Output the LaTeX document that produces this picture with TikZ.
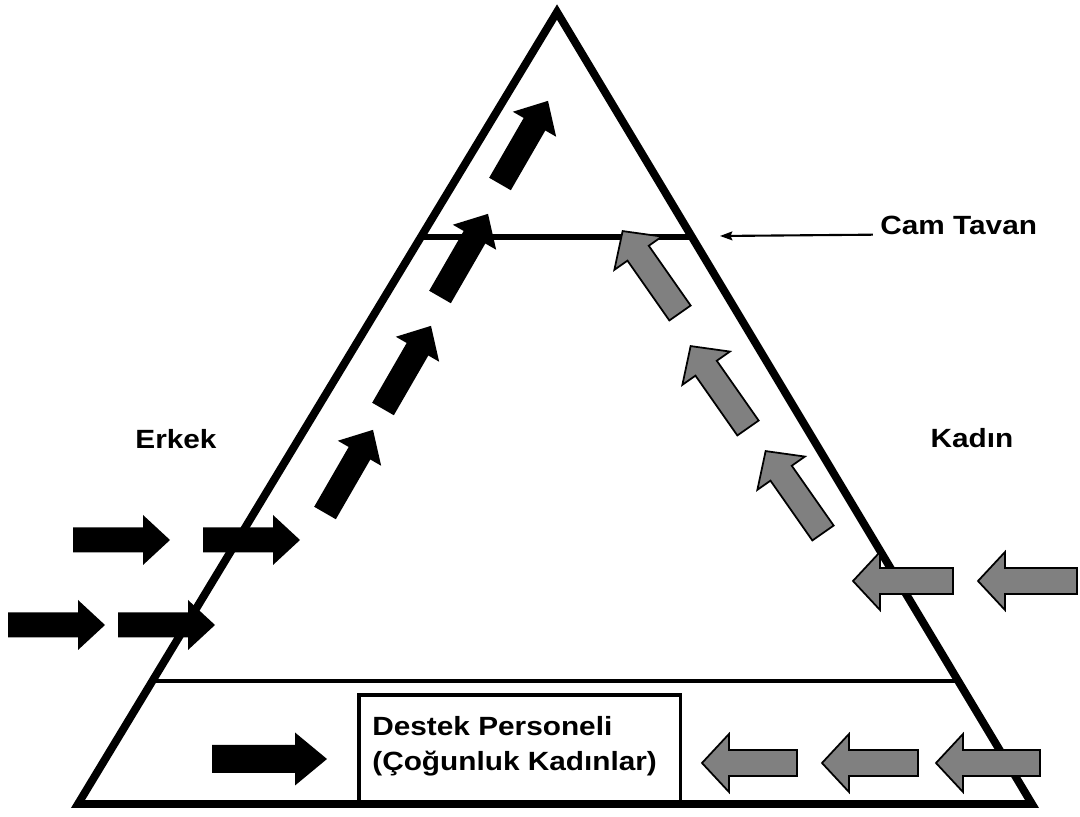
\documentclass[tikz,border=0pt]{standalone}
\usepackage{fontspec}
\newfontfamily\diagfont{Liberation Sans}[FakeStretch=1.13]
\usetikzlibrary{calc,arrows.meta}

\definecolor{arrowgray}{RGB}{128,128,128}

% block arrow: [style]{tail}{angle}{length}
\def\shaft{12.5}
\def\headw{25}
\def\headlen{27}
\newcommand{\fatarrow}[4][]{%
	\draw[#1, shift={#2}, rotate=#3]
		(0,-\shaft) -- ({#4-\headlen},-\shaft) -- ({#4-\headlen},-\headw) -- (#4,0)
		-- ({#4-\headlen},\headw) -- ({#4-\headlen},\shaft) -- (0,\shaft) -- cycle;
}

\tikzset{
	arrowdims/.style n args={3}{/utils/exec={\def\shaft{#1}\def\headw{#2}\def\headlen{#3}}},
	blackarrow/.style={fill=black, draw=none, arrowdims={12.5}{25}{27}},
	grayarrow/.style={fill=arrowgray, draw=black, line width=1pt, line join=miter, arrowdims={13}{29}{27}},
	lbl/.style={font=\diagfont\bfseries\fontsize{15pt}{20pt}\selectfont, inner sep=0pt},
}

\begin{document}
\begin{tikzpicture}[x=0.02cm, y=-0.02cm]
			\useasboundingbox (0,0) rectangle (1080,817);
			
			%pyramid
			\coordinate (apex) at (557,12);
			\coordinate (bl) at (78,804);
			\coordinate (br) at (1032,804);
			\coordinate (tavanl) at ($(apex)!0.284!(bl)$);
			\coordinate (tavanr) at ($(apex)!0.284!(br)$);
			\coordinate (tabanl) at ($(apex)!0.845!(bl)$);
			\coordinate (tabanr) at ($(apex)!0.845!(br)$);
			
			\node (destek) [draw, line width=2pt, fill=white, anchor=south west, minimum width=183pt, minimum height=61pt, inner sep=0pt] at (357,804) {};
			\node (destekyazi) [lbl, align=left, anchor=west] at (372,746) {Destek Personeli\\(Çoğunluk Kadınlar)};
			
			\draw[line width=4.5pt] (apex) -- (bl) -- (br) -- cycle;
			\draw[line width=3.8pt] (tavanl) -- (tavanr);
			\draw[line width=2.5pt] (tabanl) -- (tabanr);
			
			%labels
			\node (erkek) [lbl] at (176,439) {Erkek};
			\node (kadin) [lbl] at (972,438) {Kadın};
			\node (camtavan) [lbl, anchor=west] at (880,225) {Cam Tavan};
			\coordinate (tavanuc) at (720,236);
			\draw[line width=1.2pt, -{Stealth[length=7pt, width=5pt, inset=1pt]}] ([xshift=-4pt]camtavan.south west) -- (tavanuc);
			
			%men
			\foreach \x/\y in {73/540, 203/540, 8/625, 118/625}{
				\fatarrow[blackarrow]{(\x,\y)}{0}{97}
			}
			\foreach \x/\y in {325/513, 383/409, 440/297, 500/184}{
				\fatarrow[blackarrow]{(\x,\y)}{60}{96}
			}
			\fatarrow[blackarrow, arrowdims={14}{26.5}{32}]{(212,759)}{0}{115}
			
			%women
			\foreach \x/\y in {680/313, 748/428, 823/533}{
				\fatarrow[grayarrow]{(\x,\y)}{125}{100}
			}
			\foreach \x/\y/\len in {953/581/100, 1077/581/99, 797/763/95, 918/763/96, 1040/763/104}{
				\fatarrow[grayarrow]{(\x,\y)}{180}{\len}
			}
\end{tikzpicture}
\end{document}
